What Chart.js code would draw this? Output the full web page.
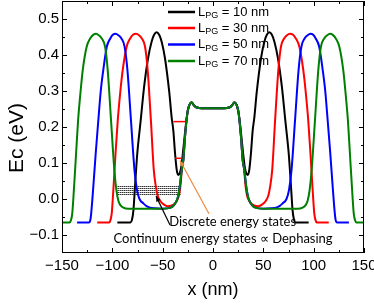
<!DOCTYPE html>
<html>
<head>
<meta charset="utf-8">
<script src="https://cdn.jsdelivr.net/npm/chart.js@4.4.0/dist/chart.umd.min.js"></script>
<style>
  html, body { margin: 0; padding: 0; background: #fff; }
</style>
</head>
<body>
<canvas id="chart" width="374" height="304"></canvas>
<script>
// gate lengths shown in the legend (nm)
const lpgValues = [10, 30, 50, 70];
const seriesColors = ['#000000', '#ff0000', '#0000ff', '#008000'];

// conduction band profiles (x in nm, Ec in eV)
const blackX = [-95, -82, -80.5, -79, -77.5, -75.2, -71.8, -68.5, -64.5, -61, -58.5, -56, -53.5, -51, -47.7, -43.5, -41, -39.4, -37.7, -36, -34.5, -33, -31.5, -30, -28.5, -27, -25.5, -24, -22.5, -21, -19.5, -17, -14, -8,
  0, 8, 14, 17, 19.5, 21, 22.5, 24, 25.5, 27, 28.5, 30, 31.5, 33, 34.5, 36, 37.7, 39.4, 41, 43.5, 47.7, 51, 53.5, 56, 58.5, 61, 64.5, 68.5, 71.8, 75.2, 77.5, 79, 80.5, 82, 95];
const blackY = [-0.065, -0.065, -0.058, -0.03, 0.034, 0.127, 0.219, 0.31, 0.391, 0.437, 0.456, 0.463, 0.456, 0.437, 0.391, 0.298, 0.225, 0.19, 0.127, 0.08, 0.067, 0.072, 0.09, 0.125, 0.165, 0.205, 0.238, 0.257, 0.266, 0.268, 0.262, 0.255, 0.253, 0.252,
  0.252, 0.252, 0.253, 0.255, 0.262, 0.268, 0.266, 0.257, 0.238, 0.205, 0.165, 0.125, 0.09, 0.072, 0.067, 0.08, 0.127, 0.19, 0.225, 0.298, 0.391, 0.437, 0.456, 0.463, 0.456, 0.437, 0.391, 0.31, 0.219, 0.127, 0.034, -0.03, -0.058, -0.065, -0.065];

const redX = [-115, -103, -101.8, -100.6, -98.8, -96.8, -94.6, -92, -89.7, -85.8, -82.3, -79.5, -76.5, -73.5, -70.7, -67.5, -64.9, -61.7, -58.8, -56.8, -55, -52.5, -49, -45, -41, -38.5, -36.5, -35, -33.5, -32, -31.1, -29.5, -27.8, -25.5, -24, -22.5, -21, -19.5, -17, -14, -8,
  0, 8, 14, 17, 19.5, 21, 22.5, 24, 25.5, 27.8, 29.5, 31.1, 32, 33.5, 35, 36.5, 38.5, 41, 45, 49, 52.5, 55, 56.8, 58.8, 61.7, 64.9, 67.5, 70.7, 73.5, 76.5, 79.5, 82.3, 85.8, 89.7, 92, 94.6, 96.8, 98.8, 100.6, 101.8, 103, 115];
const redY = [-0.065, -0.065, -0.058, -0.04, 0.034, 0.127, 0.219, 0.3, 0.358, 0.423, 0.446, 0.456, 0.459, 0.455, 0.446, 0.423, 0.358, 0.219, 0.08, 0.035, 0.01, -0.005, -0.015, -0.02, -0.018, -0.014, -0.008, 0.0, 0.014, 0.045, 0.08, 0.108, 0.173, 0.238, 0.257, 0.266, 0.268, 0.262, 0.255, 0.253, 0.252,
  0.252, 0.252, 0.253, 0.255, 0.262, 0.268, 0.266, 0.257, 0.238, 0.173, 0.108, 0.08, 0.045, 0.014, 0.0, -0.008, -0.014, -0.018, -0.02, -0.015, -0.005, 0.01, 0.035, 0.08, 0.219, 0.358, 0.423, 0.446, 0.455, 0.459, 0.456, 0.446, 0.423, 0.358, 0.3, 0.219, 0.127, 0.034, -0.04, -0.058, -0.065, -0.065];

const blueX = [-135, -123, -121.8, -121, -118.9, -116.5, -113.9, -111.5, -109, -105.5, -102, -99.5, -96.8, -94, -91, -87.8, -85, -81.5, -78, -75.5, -73, -69.2, -66, -62.6, -58, -50, -42, -38.5, -36, -34.5, -33, -31.1, -29.5, -27.8, -25.5, -24, -22.5, -21, -19.5, -17, -14, -8,
  0, 8, 14, 17, 19.5, 21, 22.5, 24, 25.5, 27.8, 29.5, 31.1, 33, 34.5, 36, 38.5, 42, 50, 58, 62.6, 66, 69.2, 73, 75.5, 78, 81.5, 85, 87.8, 91, 94, 96.8, 99.5, 102, 105.5, 109, 111.5, 113.9, 116.5, 118.9, 121, 121.8, 123, 135];
const blueY = [-0.065, -0.065, -0.058, -0.04, 0.034, 0.127, 0.219, 0.3, 0.358, 0.423, 0.446, 0.456, 0.459, 0.455, 0.446, 0.423, 0.358, 0.219, 0.08, 0.025, 0.0, -0.012, -0.02, -0.024, -0.026, -0.027, -0.024, -0.016, -0.004, 0.01, 0.035, 0.08, 0.108, 0.173, 0.238, 0.257, 0.266, 0.268, 0.262, 0.255, 0.253, 0.252,
  0.252, 0.252, 0.253, 0.255, 0.262, 0.268, 0.266, 0.257, 0.238, 0.173, 0.108, 0.08, 0.035, 0.01, -0.004, -0.016, -0.024, -0.027, -0.026, -0.024, -0.02, -0.012, 0.0, 0.025, 0.08, 0.219, 0.358, 0.423, 0.446, 0.455, 0.459, 0.456, 0.446, 0.423, 0.358, 0.3, 0.219, 0.127, 0.034, -0.04, -0.058, -0.065, -0.065];

const greenX = [-150, -142.5, -141, -139.8, -138, -136, -134, -131.5, -129.4, -125.5, -122, -119, -116.2, -113.5, -110.5, -107.2, -104.6, -101.3, -98, -96, -94, -92, -89, -84, -70, -50, -42, -38.5, -36, -34.5, -33, -31.1, -29.5, -27.8, -25.5, -24, -22.5, -21, -19.5, -17, -14, -8,
  0, 8, 14, 17, 19.5, 21, 22.5, 24, 25.5, 27.8, 29.5, 31.1, 33, 34.5, 36, 38.5, 42, 50, 70, 84, 89, 92, 94, 96, 98, 101.3, 104.6, 107.2, 110.5, 113.5, 116.2, 119, 122, 125.5, 129.4, 131.5, 134, 136, 138, 139.8, 141, 142.5, 150];
const greenY = [-0.065, -0.065, -0.058, -0.04, 0.034, 0.127, 0.219, 0.3, 0.358, 0.423, 0.446, 0.456, 0.459, 0.455, 0.446, 0.423, 0.358, 0.219, 0.08, 0.025, -0.005, -0.017, -0.024, -0.027, -0.027, -0.027, -0.024, -0.016, -0.004, 0.01, 0.035, 0.08, 0.108, 0.173, 0.238, 0.257, 0.266, 0.268, 0.262, 0.255, 0.253, 0.252,
  0.252, 0.252, 0.253, 0.255, 0.262, 0.268, 0.266, 0.257, 0.238, 0.173, 0.108, 0.08, 0.035, 0.01, -0.004, -0.016, -0.024, -0.027, -0.027, -0.027, -0.024, -0.017, -0.005, 0.025, 0.08, 0.219, 0.358, 0.423, 0.446, 0.455, 0.459, 0.456, 0.446, 0.423, 0.358, 0.3, 0.219, 0.127, 0.034, -0.04, -0.058, -0.065, -0.065];

// discrete levels in the 10 nm well (red marks)
const levelX = [[-39.4, -27.8], [-37.7, -31.1]];
const levelY = [0.215, 0.113];

// continuum band (dotted box)
const bandX = [-95.6, -32];
const bandY = [0.008, 0.039];

// annotations
const noteText = ['Discrete energy states', 'Continuum energy states \u221D Dephasing'];
const noteX = [19.5, 10];
const noteY = [-0.064, -0.111];
const arrowFrom = [[-4, -0.041], [-42.7, -0.072]];
const arrowTo = [[-32.8, 0.107], [-56.6, 0.008]];
const arrowColor = ['#f0883e', '#000000'];

const xTicks = [-150, -100, -50, 0, 50, 100, 150];
const yTicks = [-0.1, 0.0, 0.1, 0.2, 0.3, 0.4, 0.5];

function pts(xs, ys) { return xs.map((x, i) => ({ x: x, y: ys[i] })); }
function minusSign(s) { return String(s).replace('-', '\u2212'); }

const FONT = '"Liberation Sans", Arial, sans-serif';
const ctx = document.getElementById('chart').getContext('2d');

// dotted fill for the continuum band
const pc = document.createElement('canvas');
pc.width = 2; pc.height = 2;
const pctx = pc.getContext('2d');
pctx.fillStyle = '#ffffff'; pctx.fillRect(0, 0, 2, 2);
pctx.fillStyle = '#333333'; pctx.fillRect(0, 0, 1, 1);
pctx.fillStyle = '#999999'; pctx.fillRect(1, 0, 1, 1);
const dotPattern = ctx.createPattern(pc, 'repeat');

const curveX = [blackX, redX, blueX, greenX];
const curveY = [blackY, redY, blueY, greenY];

const datasets = [];
lpgValues.forEach((v, i) => {
    datasets.push({
        label: 'L_PG = ' + v + ' nm',
        data: pts(curveX[i], curveY[i]),
        showLine: true,
        borderColor: seriesColors[i],
        borderWidth: 2,
        pointRadius: 0,
        cubicInterpolationMode: 'monotone',
        order: 4 - i
    });
});
// band: top edge, then bottom edge filled up to it
datasets.push({
    data: pts(bandX, [bandY[1], bandY[1]]),
    showLine: true, borderWidth: 0, pointRadius: 0, order: 10
});
datasets.push({
    data: pts(bandX, [bandY[0], bandY[0]]),
    showLine: true, borderWidth: 0, pointRadius: 0, order: 10,
    fill: '-1', backgroundColor: dotPattern
});
levelX.forEach((lx, i) => {
    datasets.push({
        data: pts(lx, [levelY[i], levelY[i]]),
        showLine: true, borderColor: '#ff0000', borderWidth: 1.5, pointRadius: 0, order: 0
    });
});

const decor = {
    id: 'decor',
    afterDraw(chart) {
        const c = chart.ctx, a = chart.chartArea;
        const xs = chart.scales.x, ys = chart.scales.y;
        c.save();
        // frame
        c.strokeStyle = '#000'; c.lineWidth = 1;
        c.strokeRect(a.left + 0.5, a.top + 0.5, a.right - a.left - 1, a.bottom - a.top - 1);
        // inward ticks on all four sides
        const tick = (vals, len, horiz) => {
            vals.forEach(v => {
                c.beginPath();
                if (horiz) {
                    const px = Math.round(xs.getPixelForValue(v)) + 0.5;
                    c.moveTo(px, a.bottom); c.lineTo(px, a.bottom - len);
                    c.moveTo(px, a.top); c.lineTo(px, a.top + len);
                } else {
                    const py = Math.round(ys.getPixelForValue(v)) + 0.5;
                    c.moveTo(a.left, py); c.lineTo(a.left + len, py);
                    c.moveTo(a.right, py); c.lineTo(a.right - len, py);
                }
                c.stroke();
            });
        };
        const mids = arr => arr.slice(1).map((v, i) => (v + arr[i]) / 2);
        tick(xTicks, 5, true);
        tick(mids(xTicks), 3, true);
        tick(yTicks, 5, false);
        tick(mids(yTicks), 3, false);

        // arrows
        arrowFrom.forEach((f, i) => {
            const x0 = xs.getPixelForValue(f[0]), y0 = ys.getPixelForValue(f[1]);
            const x1 = xs.getPixelForValue(arrowTo[i][0]), y1 = ys.getPixelForValue(arrowTo[i][1]);
            c.strokeStyle = arrowColor[i]; c.fillStyle = arrowColor[i]; c.lineWidth = 1.2;
            c.beginPath(); c.moveTo(x0, y0); c.lineTo(x1, y1); c.stroke();
            const ang = Math.atan2(y1 - y0, x1 - x0), h = 6, w = 0.4;
            c.beginPath();
            c.moveTo(x1, y1);
            c.lineTo(x1 - h * Math.cos(ang - w), y1 - h * Math.sin(ang - w));
            c.lineTo(x1 - h * Math.cos(ang + w), y1 - h * Math.sin(ang + w));
            c.closePath(); c.fill();
        });

        // notes
        c.fillStyle = '#000';
        c.font = '13px Lato, "Open Sans", sans-serif';
        c.textAlign = 'center'; c.textBaseline = 'middle';
        noteText.forEach((t, i) => {
            c.fillText(t, xs.getPixelForValue(noteX[i]), ys.getPixelForValue(noteY[i]));
        });

        // y axis title, centred a little below the middle as in the figure
        c.save();
        c.translate(a.left - 45, (a.top + a.bottom) / 2 + 11);
        c.rotate(-Math.PI / 2);
        c.font = '21px ' + FONT;
        c.textAlign = 'center'; c.textBaseline = 'middle';
        c.fillText('Ec (eV)', 0, 0);
        c.restore();

        // legend with subscript
        const lx0 = a.left + 106, lx1 = a.left + 133, tx = a.left + 136;
        const rowY = [a.top + 11, a.top + 27, a.top + 43.5, a.top + 60];
        lpgValues.forEach((v, i) => {
            const yy = rowY[i];
            c.strokeStyle = seriesColors[i]; c.lineWidth = 2.5;
            c.beginPath(); c.moveTo(lx0, yy); c.lineTo(lx1, yy); c.stroke();
            c.fillStyle = '#000'; c.textAlign = 'left'; c.textBaseline = 'middle';
            c.font = '13px ' + FONT;
            c.fillText('L', tx, yy);
            let p = tx + c.measureText('L').width;
            c.font = '9px ' + FONT;
            c.fillText('PG', p, yy + 4);
            p += c.measureText('PG').width;
            c.font = '13px ' + FONT;
            c.fillText(' = ' + v + ' nm', p, yy);
        });
        c.restore();
    }
};

new Chart(ctx, {
    type: 'scatter',
    data: { datasets: datasets },
    options: {
        responsive: false,
        animation: false,
        devicePixelRatio: 1,
        layout: { padding: { top: 1, right: 10, left: 0, bottom: 0 } },
        plugins: {
            legend: { display: false },
            tooltip: { enabled: false },
            filler: { propagate: false }
        },
        scales: {
            x: {
                type: 'linear', min: -150, max: 150,
                grid: { display: false, drawTicks: false }, border: { display: false },
                afterBuildTicks: s => { s.ticks = xTicks.map(v => ({ value: v })); },
                afterFit: s => { s.height = 51; s.paddingLeft = 0; s.paddingRight = 0; },
                ticks: {
                    color: '#000', padding: 4, maxRotation: 0, autoSkip: false,
                    font: { family: FONT, size: 15 },
                    callback: v => minusSign(v)
                },
                title: {
                    display: true, text: 'x (nm)', color: '#000',
                    font: { family: FONT, size: 18 },
                    padding: { top: 0, bottom: 3 }
                }
            },
            y: {
                type: 'linear', min: -0.15, max: 0.55,
                grid: { display: false, drawTicks: false }, border: { display: false },
                afterBuildTicks: s => { s.ticks = yTicks.map(v => ({ value: v })); },
                afterFit: s => { s.width = 62; s.paddingTop = 0; s.paddingBottom = 0; },
                ticks: {
                    color: '#000', padding: 3, autoSkip: false,
                    font: { family: FONT, size: 15 },
                    callback: v => minusSign(Number(v).toFixed(1))
                },
                title: { display: false }
            }
        }
    },
    plugins: [decor]
});
</script>
</body>
</html>
